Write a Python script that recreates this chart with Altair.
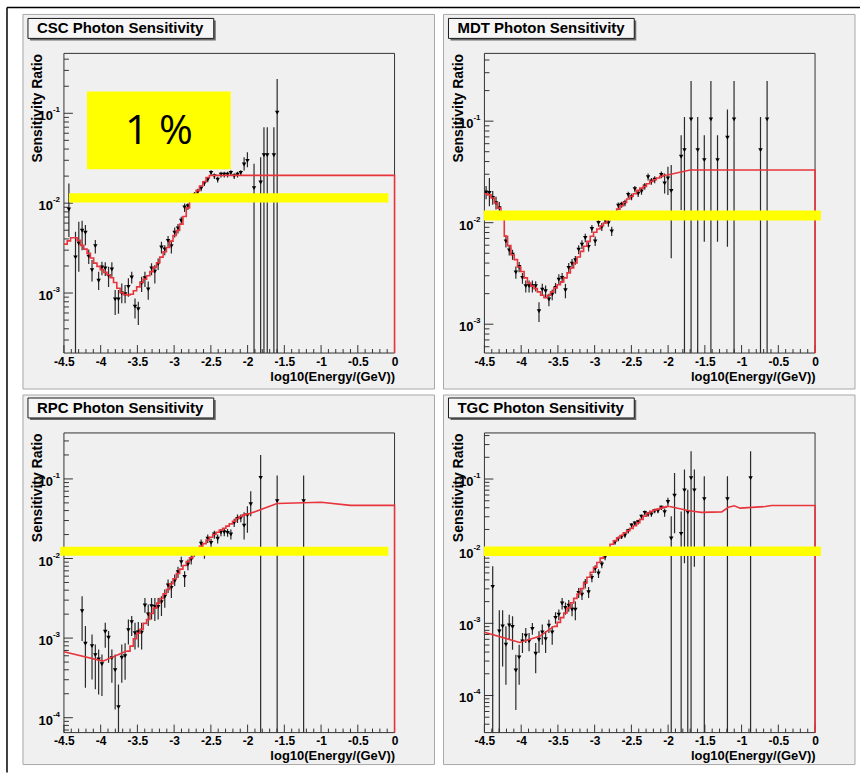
import math
import altair as alt
import pandas as pd

FONT = "Liberation Sans"
RED = "#e8343c"
YELLOW = "#ffff00"
ZERO = 1e-6  # lower error edge at zero (drawn down to the frame)

# common histogram bin edges (fit curves are drawn as step histograms)
bin_edges = [-4.5, -4.455, -4.41, -4.365, -4.32, -4.275, -4.23, -4.185, -4.14, -4.095,
             -4.05, -4.005, -3.96, -3.915, -3.87, -3.825, -3.78, -3.735, -3.69, -3.645,
             -3.6, -3.555, -3.51, -3.465, -3.42, -3.375, -3.33, -3.285, -3.24, -3.195,
             -3.15, -3.105, -3.06, -3.015, -2.97, -2.925, -2.88, -2.835, -2.79, -2.745,
             -2.7, -2.655, -2.61, -2.565, -2.52, -2.475, -2.43, -2.385, -2.34, -2.295,
             -2.25, -2.205, -2.16, -2.115, -2.07, -2.025, -1.98]

x_major = [-4.5, -4.0, -3.5, -3.0, -2.5, -2.0, -1.5, -1.0, -0.5, 0.0]

# ---------------- CSC ----------------
csc_x = [-4.4325, -4.3425, -4.2975, -4.2525, -4.2075, -4.1625, -4.1175, -4.0725, -4.0275, -3.9825,
         -3.9375, -3.8925, -3.8475, -3.8025, -3.7575, -3.7125, -3.6675, -3.6225, -3.5775, -3.5325,
         -3.4875, -3.4425, -3.3975, -3.3525, -3.3075, -3.2625, -3.2175, -3.1725, -3.1275, -3.0825,
         -3.0375, -2.9925, -2.9475, -2.9025, -2.8575, -2.8125, -2.7675, -2.7225, -2.6775, -2.6325,
         -2.5875, -2.5425, -2.4975, -2.4525, -2.4075, -2.3625, -2.3175, -2.2725, -2.2275, -2.1825,
         -2.1375, -2.0925, -2.0475, -2.0025, -1.9125, -1.8225, -1.7775, -1.7325, -1.6425, -1.5975]
csc_y = [8.5e-3, 2.49e-3, 3.56e-3, 4.93e-3, 4.68e-3, 2.54e-3, 1.8e-3, 3.33e-3, 1.37e-3, 1.93e-3,
         1.88e-3, 1.55e-3, 1.83e-3, 8.5e-4, 8.5e-4, 9.9e-4, 9.7e-4, 1.17e-3, 1.49e-3, 7.05e-4,
         6.6e-4, 1.28e-3, 1.46e-3, 1.1e-3, 1.88e-3, 1.73e-3, 2.1e-3, 3.21e-3, 3.05e-3, 3.81e-3,
         3.33e-3, 4.68e-3, 5.24e-3, 6.37e-3, 8.95e-3, 9.27e-3, 1.17e-2, 1.23e-2, 1.34e-2, 1.46e-2,
         1.66e-2, 1.83e-2, 2.17e-2, 2.0e-2, 1.83e-2, 2.08e-2, 2.08e-2, 2.08e-2, 2.17e-2, 2.0e-2,
         2.08e-2, 2.17e-2, 2.69e-2, 2.95e-2, 1.47e-2, 1.7e-2, 3.41e-2, 3.41e-2, 3.41e-2, 0.1016]
csc_hi = [1.66e-2, 4.8e-3, 6.2e-3, 6.37e-3, 5.7e-3, 3.05e-3, 2.33e-3, 3.88e-3, 1.73e-3, 2.23e-3,
          2.2e-3, 1.96e-3, 2.2e-3, 1.08e-3, 1.08e-3, 1.28e-3, 1.23e-3, 1.46e-3, 1.73e-3, 8.7e-4,
          8.0e-4, 1.52e-3, 1.73e-3, 1.34e-3, 2.15e-3, 2.05e-3, 2.43e-3, 3.72e-3, 3.41e-3, 4.3e-3,
          3.81e-3, 5.37e-3, 5.85e-3, 7.05e-3, 9.9e-3, 1.0e-2, 1.27e-2, 1.33e-2, 1.45e-2, 1.57e-2,
          1.78e-2, 1.96e-2, 2.33e-2, 2.14e-2, 1.97e-2, 2.23e-2, 2.23e-2, 2.23e-2, 2.33e-2, 2.15e-2,
          2.24e-2, 2.33e-2, 3.24e-2, 3.69e-2, 2.74e-2, 3.24e-2, 7.0e-2, 7.0e-2, 7.0e-2, 0.24]
csc_lo = [4.2e-3, ZERO, 1.73e-3, 3.0e-3, 3.41e-3, 2.1e-3, 1.34e-3, 2.76e-3, 1.08e-3, 1.58e-3,
          1.55e-3, 1.17e-3, 1.52e-3, 5.7e-4, 5.9e-4, 7.7e-4, 7.7e-4, 9.1e-4, 1.28e-3, 5.2e-4,
          4.4e-4, 1.03e-3, 1.17e-3, 8.4e-4, 1.58e-3, 1.28e-3, 1.8e-3, 2.76e-3, 2.64e-3, 3.27e-3,
          2.76e-3, 4.16e-3, 4.6e-3, 5.7e-3, 8.0e-3, 8.4e-3, 1.07e-2, 1.13e-2, 1.24e-2, 1.36e-2,
          1.55e-2, 1.71e-2, 2.02e-2, 1.86e-2, 1.7e-2, 1.93e-2, 1.93e-2, 1.93e-2, 2.02e-2, 1.86e-2,
          1.93e-2, 2.02e-2, 2.31e-2, 2.51e-2, ZERO, ZERO, ZERO, ZERO, ZERO, ZERO]
csc_step_x = bin_edges[0:46]
csc_step_y = [3.5e-3, 3.81e-3, 4.12e-3, 4.12e-3, 3.85e-3, 3.39e-3, 3.08e-3, 2.76e-3, 2.45e-3, 2.15e-3,
              1.98e-3, 1.82e-3, 1.7e-3, 1.6e-3, 1.48e-3, 1.31e-3, 1.13e-3, 1.01e-3, 9.6e-4, 9.5e-4,
              9.7e-4, 1.06e-3, 1.17e-3, 1.31e-3, 1.43e-3, 1.56e-3, 1.73e-3, 1.93e-3, 2.17e-3, 2.51e-3,
              2.88e-3, 3.21e-3, 3.78e-3, 4.37e-3, 4.97e-3, 5.85e-3, 7.11e-3, 8.87e-3, 1.08e-2, 1.24e-2,
              1.38e-2, 1.55e-2, 1.73e-2, 1.93e-2, 2.03e-2, 2.04e-2]
csc_line_x = [-2.475, 0.0]
csc_line_y = [2.04e-2, 2.04e-2]
csc_line_seg = [1, 1]
csc_ydom = [2.15e-4, 0.464]

# ---------------- MDT ----------------
mdt_x = [-4.4775, -4.4325, -4.3875, -4.3425, -4.2975, -4.2075, -4.1625, -4.1175, -4.0725, -4.0275,
         -3.9825, -3.9375, -3.8925, -3.8475, -3.8025, -3.7575, -3.7125, -3.6675, -3.6225, -3.5775,
         -3.5325, -3.4875, -3.4425, -3.3975, -3.3525, -3.3075, -3.2625, -3.2175, -3.1725, -3.1275,
         -3.0825, -3.0375, -2.9925, -2.9475, -2.9025, -2.8575, -2.8125, -2.7675, -2.6775, -2.6325,
         -2.5875, -2.5425, -2.4975, -2.4525, -2.4075, -2.3625, -2.3175, -2.2725, -2.2275, -2.1825,
         -2.0925, -2.0475, -2.0025, -1.9575, -1.8225, -1.7775, -1.6875, -1.5975, -1.5075, -1.4175,
         -1.3275, -1.1925, -1.1025, -0.7425, -0.6525]
mdt_y = [1.99e-2, 1.96e-2, 1.75e-2, 1.56e-2, 1.39e-2, 6.55e-3, 5.34e-3, 4.84e-3, 3.24e-3, 3.66e-3,
         2.86e-3, 2.37e-3, 2.37e-3, 2.37e-3, 2.37e-3, 1.34e-3, 2.19e-3, 2.11e-3, 1.75e-3, 1.96e-3,
         2.28e-3, 2.75e-3, 2.86e-3, 2.16e-3, 3.58e-3, 3.95e-3, 4.26e-3, 5.42e-3, 6.08e-3, 7.06e-3,
         5.77e-3, 8.67e-3, 6.55e-3, 9.93e-3, 9.06e-3, 1.05e-2, 9.9e-3, 8.22e-3, 1.47e-2, 1.5e-2,
         1.56e-2, 1.88e-2, 1.79e-2, 2.14e-2, 1.93e-2, 2.03e-2, 2.28e-2, 2.81e-2, 2.55e-2, 2.65e-2,
         2.96e-2, 2.44e-2, 2.73e-2, 2.05e-2, 4.46e-2, 5.19e-2, 0.104, 5.19e-2, 4.13e-2, 0.104,
         4.13e-2, 6.86e-2, 0.104, 5.19e-2, 0.104]
mdt_hi = [2.3e-2, 2.75e-2, 2.05e-2, 1.8e-2, 1.6e-2, 7.5e-3, 6.0e-3, 5.4e-3, 3.7e-3, 4.1e-3,
          3.2e-3, 2.7e-3, 2.7e-3, 2.7e-3, 2.65e-3, 1.65e-3, 2.5e-3, 2.4e-3, 2.0e-3, 2.2e-3,
          2.55e-3, 3.1e-3, 3.2e-3, 2.5e-3, 4.0e-3, 4.4e-3, 4.7e-3, 6.0e-3, 6.7e-3, 7.8e-3,
          6.4e-3, 9.5e-3, 7.3e-3, 1.08e-2, 9.9e-3, 1.14e-2, 1.08e-2, 9.1e-3, 1.58e-2, 1.61e-2,
          1.68e-2, 2.02e-2, 1.93e-2, 2.3e-2, 2.08e-2, 2.2e-2, 2.46e-2, 3.05e-2, 2.75e-2, 2.86e-2,
          3.2e-2, 3.05e-2, 3.56e-2, 3.69e-2, 7.28e-2, 0.11, 0.249, 0.11, 7.28e-2, 0.249,
          7.28e-2, 0.13, 0.249, 0.11, 0.249]
mdt_lo = [1.7e-2, 1.45e-2, 1.5e-2, 1.35e-2, 1.2e-2, 5.7e-3, 4.75e-3, 4.3e-3, 2.8e-3, 3.25e-3,
          2.5e-3, 2.05e-3, 2.05e-3, 2.05e-3, 2.1e-3, 1.05e-3, 1.9e-3, 1.85e-3, 1.5e-3, 1.72e-3,
          2.0e-3, 2.45e-3, 2.55e-3, 1.8e-3, 3.2e-3, 3.55e-3, 3.85e-3, 4.9e-3, 5.5e-3, 6.4e-3,
          5.2e-3, 7.9e-3, 5.9e-3, 9.1e-3, 8.3e-3, 9.7e-3, 9.1e-3, 7.4e-3, 1.37e-2, 1.4e-2,
          1.45e-2, 1.75e-2, 1.66e-2, 1.99e-2, 1.79e-2, 1.88e-2, 2.11e-2, 2.6e-2, 2.36e-2, 2.45e-2,
          2.74e-2, 1.94e-2, 1.87e-2, 4.46e-3, 1.33e-2, ZERO, ZERO, ZERO, 6.5e-3, ZERO,
          6.5e-3, 5.8e-3, ZERO, ZERO, ZERO]
mdt_step_x = bin_edges[0:56]
mdt_step_y = [1.93e-2, 1.88e-2, 1.75e-2, 1.56e-2, 1.39e-2, 1.2e-2, 7.34e-3, 5.94e-3, 4.84e-3, 4.33e-3,
              3.66e-3, 3.3e-3, 2.86e-3, 2.55e-3, 2.37e-3, 2.24e-3, 2.08e-3, 1.93e-3, 1.82e-3, 1.93e-3,
              2.08e-3, 2.28e-3, 2.45e-3, 2.61e-3, 2.86e-3, 3.2e-3, 3.58e-3, 4.01e-3, 4.59e-3, 5.22e-3,
              5.85e-3, 6.55e-3, 7.34e-3, 8.04e-3, 8.67e-3, 9.34e-3, 9.93e-3, 1.07e-2, 1.15e-2, 1.26e-2,
              1.36e-2, 1.47e-2, 1.58e-2, 1.71e-2, 1.82e-2, 1.93e-2, 2.08e-2, 2.19e-2, 2.28e-2, 2.42e-2,
              2.55e-2, 2.65e-2, 2.75e-2, 2.86e-2, 2.93e-2, 2.93e-2]
mdt_line_x = [-2.025, -1.7, 0.0]
mdt_line_y = [2.93e-2, 3.3e-2, 3.3e-2]
mdt_line_seg = [1, 1, 1]
mdt_ydom = [5.2e-4, 0.465]

# ---------------- RPC ----------------
rpc_x = [-4.2525, -4.2075, -4.1175, -4.0725, -4.0275, -3.9825, -3.9375, -3.8925, -3.8475, -3.8025,
         -3.7575, -3.7125, -3.6675, -3.6225, -3.5775, -3.5325, -3.4875, -3.4425, -3.3975, -3.3525,
         -3.3075, -3.2625, -3.2175, -3.1725, -3.1275, -3.0825, -3.0375, -2.9925, -2.9475, -2.9025,
         -2.8575, -2.8125, -2.7675, -2.7225, -2.6325, -2.5875, -2.5425, -2.4975, -2.4525, -2.4075,
         -2.3625, -2.3175, -2.2725, -2.2275, -2.1825, -2.1375, -2.0925, -2.0475, -2.0025, -1.9575,
         -1.8225, -1.5975, -1.2375]
rpc_y = [2.18e-3, 8.5e-4, 7.94e-4, 6.12e-4, 5.4e-4, 4.7e-4, 1.2e-3, 1.01e-3, 5.6e-4, 3.96e-4,
         1.36e-4, 5.66e-4, 5.94e-4, 1.26e-3, 1.59e-3, 1.15e-3, 1.19e-3, 1.17e-3, 2.57e-3, 1.98e-3,
         2.52e-3, 2.47e-3, 2.47e-3, 2.83e-3, 3.3e-3, 4.58e-3, 4.28e-3, 5.19e-3, 6.73e-3, 9.0e-3,
         5.89e-3, 8.41e-3, 9.7e-3, 1.2e-2, 1.54e-2, 1.2e-2, 1.77e-2, 1.57e-2, 2.0e-2, 1.77e-2,
         2.14e-2, 2.14e-2, 2.1e-2, 2.0e-2, 2.8e-2, 3.15e-2, 3.24e-2, 2.59e-2, 3.47e-2, 4.81e-2,
         0.103, 5.25e-2, 5.25e-2]
rpc_hi = [3.36e-3, 1.42e-3, 1.11e-3, 8.33e-4, 7.2e-4, 6.24e-4, 1.56e-3, 1.23e-3, 7.2e-4, 6.24e-4,
          2.62e-4, 8.33e-4, 8.6e-4, 1.71e-3, 1.89e-3, 1.56e-3, 1.59e-3, 1.56e-3, 3.2e-3, 2.65e-3,
          3.2e-3, 3.2e-3, 3.2e-3, 3.36e-3, 4.08e-3, 5.45e-3, 5.19e-3, 6.3e-3, 7.86e-3, 1.05e-2,
          6.93e-3, 9.7e-3, 1.12e-2, 1.35e-2, 1.73e-2, 1.35e-2, 2.0e-2, 1.77e-2, 2.24e-2, 2.0e-2,
          2.35e-2, 2.35e-2, 2.35e-2, 2.31e-2, 3.15e-2, 3.56e-2, 3.56e-2, 3.82e-2, 4.54e-2, 7.0e-2,
          0.2, 0.11, 0.11]
rpc_lo = [9.2e-4, 2.38e-4, 3.03e-4, 2.27e-4, 1.96e-4, 1.87e-4, 7.56e-4, 4.9e-4, 2.75e-4, 1.27e-4,
          ZERO, 2.75e-4, 3.0e-4, 8.33e-4, 1.06e-3, 7.2e-4, 7.6e-4, 7.2e-4, 2.08e-3, 1.42e-3,
          1.71e-3, 1.64e-3, 1.71e-3, 1.89e-3, 2.4e-3, 3.7e-3, 3.2e-3, 4.5e-3, 5.71e-3, 7.86e-3,
          4.4e-3, 7.14e-3, 8.41e-3, 1.05e-2, 1.36e-2, 9.9e-3, 1.57e-2, 1.38e-2, 1.77e-2, 1.54e-2,
          1.91e-2, 1.91e-2, 1.87e-2, 1.73e-2, 2.49e-2, 2.8e-2, 2.85e-2, 1.73e-2, 2.1e-2, 3.4e-2,
          ZERO, ZERO, ZERO]
rpc_step_x = bin_edges[19:57]
rpc_step_y = [6.87e-4, 7.94e-4, 9.82e-4, 1.15e-3, 1.29e-3, 1.53e-3, 1.71e-3, 2.04e-3, 2.38e-3, 2.75e-3,
              3.15e-3, 3.6e-3, 4.08e-3, 4.81e-3, 5.56e-3, 6.49e-3, 7.35e-3, 8.17e-3, 9.17e-3, 1.02e-2,
              1.13e-2, 1.27e-2, 1.42e-2, 1.54e-2, 1.71e-2, 1.85e-2, 2.0e-2, 2.14e-2, 2.27e-2, 2.4e-2,
              2.55e-2, 2.72e-2, 2.94e-2, 3.18e-2, 3.37e-2, 3.53e-2, 3.64e-2, 3.64e-2]
rpc_line_x = [-4.5, -3.97, -3.645, -1.98, -1.6, -1.0, -0.6, 0.0]
rpc_line_y = [6.73e-4, 5.14e-4, 6.87e-4, 3.64e-2, 4.9e-2, 5.1e-2, 4.65e-2, 4.65e-2]
rpc_line_seg = [0, 0, 0, 1, 1, 1, 1, 1]
rpc_ydom = [6.5e-5, 0.378]

# ---------------- TGC ----------------
tgc_x = [-4.3875, -4.2975, -4.2525, -4.2075, -4.1625, -4.1175, -4.0725, -4.0275, -3.9825, -3.9375,
         -3.8925, -3.8475, -3.8025, -3.7575, -3.7125, -3.6675, -3.6225, -3.5775, -3.5325, -3.4875,
         -3.4425, -3.3975, -3.3525, -3.3075, -3.2625, -3.2175, -3.1725, -3.1275, -3.0825, -3.0375,
         -2.9925, -2.9475, -2.9025, -2.8575, -2.7225, -2.6775, -2.6325, -2.5875, -2.5425, -2.4975,
         -2.4525, -2.4075, -2.3625, -2.3175, -2.2725, -2.2275, -2.1825, -2.1375, -2.0925, -2.0475,
         -2.0025, -1.9575, -1.9125, -1.8225, -1.7775, -1.7325, -1.6875, -1.6425, -1.5075, -1.1925,
         -0.8775]
tgc_y = [3.2e-3, 7.74e-4, 9.08e-4, 5.06e-4, 9.37e-4, 8.89e-4, 2.22e-4, 3.37e-4, 5.62e-4, 6.74e-4,
         5.62e-4, 8.34e-4, 3.79e-4, 5.93e-4, 7.5e-4, 6.05e-4, 9.29e-4, 7.5e-4, 1.19e-3, 1.32e-3,
         1.88e-3, 1.63e-3, 1.76e-3, 1.55e-3, 1.55e-3, 2.64e-3, 2.5e-3, 3.56e-3, 2.7e-3, 4.26e-3,
         5.69e-3, 4.9e-3, 6.53e-3, 8.26e-3, 1.33e-2, 1.48e-2, 1.58e-2, 1.65e-2, 1.9e-2, 2.27e-2,
         2.42e-2, 2.53e-2, 3.0e-2, 3.4e-2, 3.23e-2, 3.23e-2, 3.6e-2, 3.6e-2, 4.0e-2, 3.48e-2,
         4.8e-2, 1.5e-2, 5.86e-2, 1.74e-2, 6.95e-2, 3.43e-2, 0.103, 6.95e-2, 5.27e-2, 5.27e-2,
         0.103]
tgc_hi = [6.19e-3, 1.52e-3, 1.52e-3, 9.08e-4, 1.32e-3, 1.25e-3, 3.67e-4, 5.06e-4, 7.35e-4, 8.6e-4,
          7.35e-4, 1.01e-3, 5.33e-4, 7.74e-4, 9.6e-4, 7.74e-4, 1.12e-3, 9.1e-4, 1.42e-3, 1.55e-3,
          2.25e-3, 1.95e-3, 2.1e-3, 1.85e-3, 2.0e-3, 3.1e-3, 2.95e-3, 4.1e-3, 3.2e-3, 4.85e-3,
          6.4e-3, 5.6e-3, 7.3e-3, 9.1e-3, 1.44e-2, 1.6e-2, 1.7e-2, 1.78e-2, 2.05e-2, 2.44e-2,
          2.6e-2, 2.72e-2, 3.22e-2, 3.65e-2, 3.47e-2, 3.47e-2, 3.87e-2, 3.87e-2, 4.3e-2, 3.9e-2,
          5.5e-2, 3.06e-2, 0.121, 3.55e-2, 0.135, 7.11e-2, 0.243, 0.135, 0.109, 0.109,
          0.243]
tgc_lo = [ZERO, ZERO, 2.53e-4, 1.41e-4, 5.93e-4, 4.3e-4, 6.3e-5, 1.41e-4, 3.87e-4, 5.33e-4,
          4.1e-4, 6.97e-4, 2.04e-4, 3.87e-4, 5.06e-4, 3.87e-4, 7.35e-4, 5.06e-4, 9.9e-4, 1.1e-3,
          1.55e-3, 1.32e-3, 1.45e-3, 1.25e-3, 1.1e-3, 2.25e-3, 2.1e-3, 3.05e-3, 2.25e-3, 3.7e-3,
          5.0e-3, 4.25e-3, 5.8e-3, 7.5e-3, 1.23e-2, 1.37e-2, 1.47e-2, 1.53e-2, 1.76e-2, 2.11e-2,
          2.25e-2, 2.35e-2, 2.79e-2, 3.16e-2, 3.0e-2, 3.0e-2, 3.35e-2, 3.35e-2, 3.72e-2, 3.0e-2,
          4.1e-2, ZERO, 1.77e-2, ZERO, 6.8e-3, ZERO, ZERO, 6.1e-3, ZERO, ZERO,
          ZERO]
tgc_step_x = bin_edges[21:57]
tgc_step_y = [9.08e-4, 1.03e-3, 1.2e-3, 1.39e-3, 1.63e-3, 1.92e-3, 2.22e-3, 2.55e-3, 3.03e-3, 3.63e-3,
              4.35e-3, 5.11e-3, 6.0e-3, 6.97e-3, 8.0e-3, 9.29e-3, 1.09e-2, 1.25e-2, 1.39e-2, 1.53e-2,
              1.65e-2, 1.8e-2, 1.92e-2, 2.07e-2, 2.25e-2, 2.48e-2, 2.76e-2, 3.06e-2, 3.34e-2, 3.56e-2,
              3.71e-2, 3.83e-2, 3.95e-2, 4.08e-2, 4.17e-2, 4.17e-2]
tgc_line_x = [-4.5, -4.02, -3.75, -3.555, -1.98, -1.73, -1.55, -1.27, -1.18, -1.1, -1.02, -0.68, -0.59, 0.0]
tgc_line_y = [7.5e-4, 5.44e-4, 6.6e-4, 9.08e-4, 4.17e-2, 3.66e-2, 3.45e-2, 3.5e-2, 4.05e-2, 4.25e-2,
              3.95e-2, 4.15e-2, 4.3e-2, 4.3e-2]
tgc_line_seg = [0, 0, 0, 0, 1, 1, 1, 1, 1, 1, 1, 1, 1, 1]
tgc_ydom = [3.06e-5, 0.435]

# 1 % reference bands drawn across each panel: x0, x1, y0, y1
csc_band = [-4.43, -0.085, 0.0102, 0.0129]
mdt_band = [-4.51, 0.08, 0.0105, 0.0132]
rpc_band = [-4.55, -0.085, 0.0108, 0.0141]
tgc_band = [-4.51, 0.08, 0.0086, 0.0116]

# "1 %" label box in the CSC panel: x0, x1, y0, y1
pct_box = [-4.187, -2.23, 0.0239, 0.175]

W, H = 331, 300


def make_panel(title, px, py, phi, plo, sx, sy, lx, ly, lseg, ydom, band,
               bg_top, bg_bottom, pct=None, outer=False):
    xs = alt.Scale(domain=[-4.5, 0.0], nice=False, zero=False)
    ys = alt.Scale(type="log", domain=ydom, nice=False)
    xaxis = alt.Axis(values=x_major, labelExpr="'' + datum.value", labelFlush=False,
                     labelOverlap=False, ticks=False, domain=False, grid=False,
                     labelFont=FONT, labelFontSize=12, labelFontWeight="bold",
                     labelColor="black", labelPadding=3,
                     title="log10(Energy/(GeV))", titleX=W, titleY=23,
                     titleAlign="right", titleBaseline="middle", titleFont=FONT,
                     titleFontSize=13, titleFontWeight="bold", titleColor="black", zindex=1)
    yaxis = alt.Axis(labels=False, ticks=False, domain=False, grid=False,
                     title="Sensitivity Ratio", titleX=-26, titleY=0, titleAngle=270,
                     titleAlign="right", titleBaseline="middle", titleFont=FONT,
                     titleFontSize=14, titleFontWeight="bold", titleColor="black", zindex=1)

    def X(f):
        return alt.X(f, type="quantitative", scale=xs, axis=xaxis)

    def Y(f):
        return alt.Y(f, type="quantitative", scale=ys, axis=yaxis)

    one = pd.DataFrame({"k": [0]})

    # panel background and title box
    bg = alt.Chart(one).mark_rect(fill="#f0f0f0", stroke="#a8a8a8", strokeWidth=1).encode(
        x=alt.value(-41), x2=alt.value(371), y=alt.value(bg_top), y2=alt.value(bg_bottom))
    shadow = alt.Chart(one).mark_rect(fill="#6a6a6a").encode(
        x=alt.value(-34), x2=alt.value(152), y=alt.value(-33), y2=alt.value(-13))
    tbox = alt.Chart(one).mark_rect(fill="#f6f6f6", stroke="#1a1a1a", strokeWidth=1).encode(
        x=alt.value(-36), x2=alt.value(150), y=alt.value(-35), y2=alt.value(-15))
    ttext = alt.Chart(one).mark_text(align="left", baseline="middle", font=FONT, fontSize=15,
                                     fontWeight="bold", color="black").encode(
        x=alt.value(-27), y=alt.value(-25), text=alt.value(title))

    # inward tick marks
    x_minor = [round(-4.5 + 0.1 * i, 1) for i in range(46)]
    x_minor = [v for v in x_minor if round(v * 2) != v * 2]
    lo_e, hi_e = ydom
    decades = [10.0 ** d for d in range(-6, 1) if lo_e <= 10.0 ** d <= hi_e]
    y_minor = [m * 10.0 ** d for d in range(-6, 1) for m in range(2, 10)
               if lo_e <= m * 10.0 ** d <= hi_e]
    xt1 = alt.Chart(pd.DataFrame({"v": x_major})).mark_rule(color="#333", strokeWidth=1).encode(
        x=X("v"), y=alt.value(H), y2=alt.value(H - 8))
    xt2 = alt.Chart(pd.DataFrame({"v": x_minor})).mark_rule(color="#333", strokeWidth=1).encode(
        x=X("v"), y=alt.value(H), y2=alt.value(H - 4))
    yt1 = alt.Chart(pd.DataFrame({"v": decades})).mark_rule(color="#333", strokeWidth=1).encode(
        y=Y("v"), x=alt.value(0), x2=alt.value(9))
    yt2 = alt.Chart(pd.DataFrame({"v": y_minor})).mark_rule(color="#333", strokeWidth=1).encode(
        y=Y("v"), x=alt.value(0), x2=alt.value(5))

    # power-of-ten tick labels
    dec_df = pd.DataFrame({"v": decades,
                           "e": ["%d" % round(math.log10(v)) for v in decades]})
    ylab = alt.Chart(dec_df).mark_text(align="right", baseline="middle", font=FONT, fontSize=13,
                                       fontWeight="bold", color="black", dy=3).encode(
        x=alt.value(-11), y=Y("v"), text=alt.value("10"))
    yexp = alt.Chart(dec_df).mark_text(align="left", baseline="middle", font=FONT, fontSize=8,
                                       fontWeight="bold", color="black", dy=-3).encode(
        x=alt.value(-11), y=Y("v"), text="e:N")

    # measurements with error bars
    pts = pd.DataFrame({"x": px, "y": py, "hi": phi, "lo": plo})
    err = alt.Chart(pts).mark_rule(color="#2a2a2a", strokeWidth=1.2, clip=True).encode(
        x=X("x"), y=Y("lo"), y2="hi")
    dots = alt.Chart(pts).mark_point(shape="triangle-down", filled=True, size=20, color="black",
                                     opacity=1, clip=True).encode(x=X("x"), y=Y("y"))

    frame = alt.Chart(one).mark_rect(fillOpacity=0, stroke="#333", strokeWidth=1).encode(
        x=alt.value(0), x2=alt.value(W), y=alt.value(0), y2=alt.value(H))

    # fitted sensitivity curve: histogram steps, smooth segments, drop to the floor at x = 0
    step_df = pd.DataFrame({"x": sx, "y": sy, "i": list(range(len(sx)))})
    lx2 = list(lx) + [0.0]
    ly2 = list(ly) + [ydom[0]]
    ls2 = list(lseg) + [lseg[-1]]
    line_df = pd.DataFrame({"x": lx2, "y": ly2, "seg": ls2, "i": list(range(len(lx2)))})
    fit_step = alt.Chart(step_df).mark_line(interpolate="step-after", color=RED, strokeWidth=1.6,
                                            clip=False).encode(
        x=X("x"), y=Y("y"), order=alt.Order("i:Q"))
    fit_line = alt.Chart(line_df).mark_line(interpolate="linear", color=RED, strokeWidth=1.6,
                                            clip=False).encode(
        x=X("x"), y=Y("y"), detail="seg:N", order=alt.Order("i:Q"))

    band_df = pd.DataFrame({"x0": [band[0]], "x1": [band[1]], "y0": [band[2]], "y1": [band[3]]})
    band_l = alt.Chart(band_df).mark_rect(color=YELLOW, opacity=1, clip=False).encode(
        x=X("x0"), x2="x1", y=Y("y0"), y2="y1")

    layers = [bg, shadow, tbox, ttext, xt1, xt2, yt1, yt2, ylab, yexp, err, dots, frame,
              fit_step, fit_line, band_l]

    if pct is not None:
        box_df = pd.DataFrame({"x0": [pct[0]], "x1": [pct[1]], "y0": [pct[2]], "y1": [pct[3]],
                               "tx": [(pct[0] + pct[1]) / 2],
                               "ty": [(pct[2] * pct[3]) ** 0.5]})
        layers.append(alt.Chart(box_df).mark_rect(color=YELLOW, opacity=1, clip=False).encode(
            x=X("x0"), x2="x1", y=Y("y0"), y2="y1"))
        layers.append(alt.Chart(box_df).mark_text(font="Open Sans", fontSize=41, color="black",
                                                  align="center", baseline="middle", dy=2).encode(
            x=X("tx"), y=Y("ty"), text=alt.value("1 %")))

    if outer:
        layers.append(alt.Chart(one).mark_rule(color="black", strokeWidth=1.5).encode(
            x=alt.value(-57), y=alt.value(-46), y2=alt.value(720)))
        layers.append(alt.Chart(one).mark_rule(color="black", strokeWidth=1.5).encode(
            x=alt.value(-57), x2=alt.value(797), y=alt.value(-46)))

    return alt.layer(*layers).properties(width=W, height=H)


csc = make_panel("CSC Photon Sensitivity", csc_x, csc_y, csc_hi, csc_lo, csc_step_x, csc_step_y,
                 csc_line_x, csc_line_y, csc_line_seg, csc_ydom, csc_band, -39, 336,
                 pct=pct_box, outer=True)
mdt = make_panel("MDT Photon Sensitivity", mdt_x, mdt_y, mdt_hi, mdt_lo, mdt_step_x, mdt_step_y,
                 mdt_line_x, mdt_line_y, mdt_line_seg, mdt_ydom, mdt_band, -39, 336)
rpc = make_panel("RPC Photon Sensitivity", rpc_x, rpc_y, rpc_hi, rpc_lo, rpc_step_x, rpc_step_y,
                 rpc_line_x, rpc_line_y, rpc_line_seg, rpc_ydom, rpc_band, -38, 332)
tgc = make_panel("TGC Photon Sensitivity", tgc_x, tgc_y, tgc_hi, tgc_lo, tgc_step_x, tgc_step_y,
                 tgc_line_x, tgc_line_y, tgc_line_seg, tgc_ydom, tgc_band, -38, 332)

chart = alt.concat(csc, mdt, rpc, tgc, columns=2, spacing={"row": 80, "column": 90},
                   bounds="flush").properties(
    padding={"left": 6, "top": 6, "right": 0, "bottom": 0},
    background="white",
).configure_view(stroke=None)

chart.save("out.html", embed_options={"renderer": "svg", "actions": False})
